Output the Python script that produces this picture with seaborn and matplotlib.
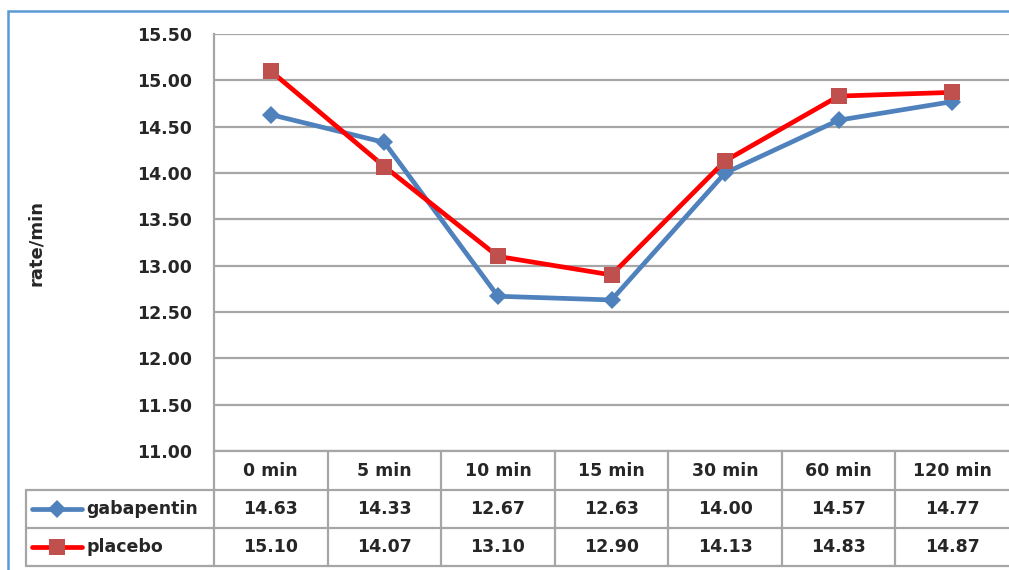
import matplotlib
matplotlib.use("Agg")
import matplotlib.pyplot as plt
from matplotlib.lines import Line2D
from matplotlib.patches import Rectangle
import pandas as pd
import seaborn as sns

times = ["0 min", "5 min", "10 min", "15 min", "30 min", "60 min", "120 min"]
gabapentin = [14.63, 14.33, 12.67, 12.63, 14.00, 14.57, 14.77]
placebo = [15.10, 14.07, 13.10, 12.90, 14.13, 14.83, 14.87]
y_ticks = [11.00, 11.50, 12.00, 12.50, 13.00, 13.50, 14.00, 14.50, 15.00, 15.50]

series = {"gabapentin": gabapentin, "placebo": placebo}
line_colors = {"gabapentin": "#4F81BD", "placebo": "#FF0000"}
marker_colors = {"gabapentin": "#4F81BD", "placebo": "#C0504D"}
markers = {"gabapentin": "D", "placebo": "s"}
marker_sizes = {"gabapentin": 9, "placebo": 11.5}

df = pd.DataFrame(
    [(t, name, v) for name, vals in series.items() for t, v in zip(times, vals)],
    columns=["time", "group", "value"],
)

sns.set_theme(style="white")
plt.rcParams["font.family"] = ["DejaVu Sans"]
plt.rcParams["font.weight"] = "bold"

TXT = "#262626"
FS = 12.5

W, H = 1009, 570
fig = plt.figure(figsize=(W / 100, H / 100), dpi=100)
fig.patch.set_facecolor("white")

def fx(px):
    return px / W

def fy(py):
    return 1 - py / H

ax_left, ax_top, ax_bottom, ax_right = 214, 34, 451, 1009
ax = fig.add_axes([fx(ax_left), fy(ax_bottom), fx(ax_right - ax_left), fy(ax_top) - fy(ax_bottom)])

sns.lineplot(
    data=df, x="time", y="value", hue="group", style="group",
    palette=line_colors, markers=markers, dashes=False, sort=False,
    legend=False, ax=ax, linewidth=3.4, markeredgewidth=0,
)
for line, name in zip(ax.lines, series.keys()):
    line.set_markerfacecolor(marker_colors[name])
    line.set_markeredgecolor(marker_colors[name])
    line.set_markersize(marker_sizes[name])
    line.set_zorder(3 if name == "placebo" else 2)

ax.set_xlim(-0.5, len(times) - 0.5)
ax.set_ylim(11.0, 15.5)
ax.set_yticks(y_ticks)
ax.set_yticklabels([f"{v:.2f}" for v in y_ticks])
ax.yaxis.grid(True, color="#A6A6A6", linewidth=1.6)
ax.set_axisbelow(True)
ax.set_xticks([])
ax.set_xlabel("")
ax.set_ylabel("")
for side in ["top", "right", "bottom"]:
    ax.spines[side].set_visible(False)
ax.spines["left"].set_color("#A6A6A6")
ax.spines["left"].set_linewidth(1.6)
ax.tick_params(axis="y", length=0, pad=16, labelsize=FS, labelcolor=TXT)
for lbl in ax.get_yticklabels():
    lbl.set_fontweight("bold")

fig.text(fx(36), fy(243), "rate/min", rotation=90, ha="center", va="center",
         fontsize=13, fontweight="bold", color=TXT)

# data table beneath the plot
grid_c = "#A6A6A6"
row_edges = [451, 490, 528, 566]
col_w = (ax_right - ax_left) / len(times)
col_edges = [ax_left + i * col_w for i in range(len(times) + 1)]

def hline(y, x0, x1):
    fig.add_artist(Line2D([fx(x0), fx(x1)], [fy(y), fy(y)], color=grid_c, lw=1.6))

def vline(x, y0, y1):
    fig.add_artist(Line2D([fx(x), fx(x)], [fy(y0), fy(y1)], color=grid_c, lw=1.6))

hline(row_edges[0], ax_left, W + 5)
for y in row_edges[1:]:
    hline(y, 26, W + 5)
vline(26, row_edges[1], row_edges[3])
vline(ax_left, row_edges[0], row_edges[3])
for x in col_edges[1:-1]:
    vline(x, row_edges[0], row_edges[3])

row_mid = [(row_edges[i] + row_edges[i + 1]) / 2 for i in range(3)]
for i, t in enumerate(times):
    cx = ax_left + (i + 0.5) * col_w
    fig.text(fx(cx), fy(row_mid[0]), t, ha="center", va="center",
             fontsize=FS, fontweight="bold", color=TXT)
    for r, name in enumerate(series):
        fig.text(fx(cx), fy(row_mid[r + 1]), f"{series[name][i]:.2f}", ha="center", va="center",
                 fontsize=FS, fontweight="bold", color=TXT)

for r, name in enumerate(series):
    yy = fy(row_mid[r + 1])
    fig.add_artist(Line2D([fx(32), fx(82)], [yy, yy], color=line_colors[name], lw=3.4))
    fig.add_artist(Line2D([fx(57)], [yy], marker=markers[name], markersize=marker_sizes[name],
                          color=marker_colors[name], markeredgewidth=0))
    fig.text(fx(86), yy, name, ha="left", va="center", fontsize=FS,
             fontweight="bold", color=TXT)

# chart frame
fig.add_artist(Rectangle((fx(8), fy(H + 20)), fx(W + 40), fy(11) - fy(H + 20),
                         fill=False, edgecolor="#5B9BD5", lw=1.8))

fig.savefig("out.png", dpi=100, facecolor="white")
